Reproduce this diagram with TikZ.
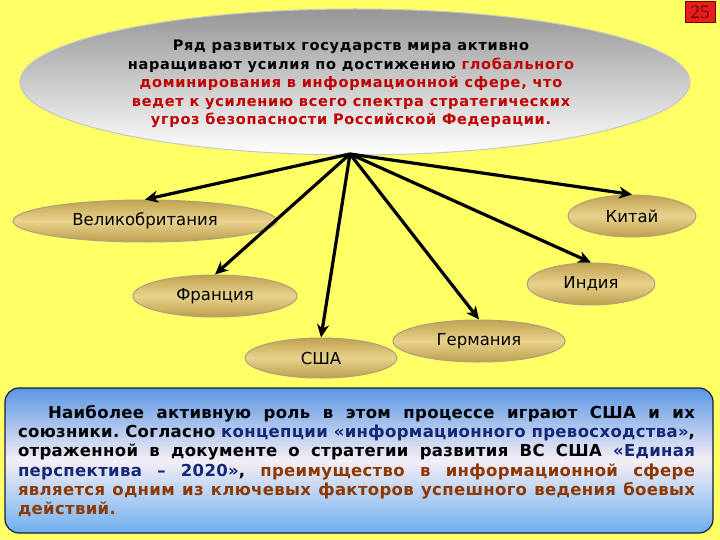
\documentclass[tikz,border=0pt]{standalone}
\usepackage{fontspec}
\setmainfont{DejaVu Sans}
\newfontfamily\topfont[LetterSpace=5]{DejaVu Sans}
\newfontfamily\boxfont[LetterSpace=2]{DejaVu Sans}
\newfontfamily\numfont{Liberation Serif}
\usetikzlibrary{shapes.geometric,arrows.meta}
\definecolor{bgY}{RGB}{255,255,102}
\definecolor{redT}{RGB}{192,0,0}
\definecolor{blueT}{RGB}{20,40,120}
\definecolor{brownT}{RGB}{140,55,0}
\definecolor{goldTop}{RGB}{192,162,80}
\definecolor{goldMid}{RGB}{232,210,140}
\definecolor{goldBot}{RGB}{188,158,78}
\definecolor{goldLine}{RGB}{170,160,130}
\definecolor{boxTop}{RGB}{90,150,228}
\definecolor{boxMid}{RGB}{245,238,245}
\definecolor{boxBot}{RGB}{110,175,240}
\definecolor{boxLine}{RGB}{20,30,70}
\definecolor{pgRed}{RGB}{230,30,30}
\definecolor{pgLine}{RGB}{110,0,0}
\tikzset{
  gold/.style={ellipse, inner sep=0pt, minimum height=42pt,
    top color=goldTop, bottom color=goldBot, middle color=goldMid,
    draw=goldLine, line width=1pt, font=\fontsize{16.5}{20}\selectfont},
  arr/.style={line width=3.2pt, -{Stealth[length=13pt,width=12pt,inset=4pt]}},
}
\begin{document}
\begin{tikzpicture}[x=1pt,y=-1pt]
\fill[bgY] (0,0) rectangle (720,540);
\useasboundingbox (0,0) rectangle (720,540);

% main ellipse
\node[ellipse, minimum width=670pt, minimum height=146pt,
  top color={rgb,255:red,150;green,150;blue,150}, bottom color=white,
  draw=gray!45, line width=1pt] (topell) at (355,82) {};
\node[align=center, inner sep=0pt,
  font=\topfont\bfseries\fontsize{14.5}{18.5}\selectfont] (toptext) at (351,84)
  {Ряд развитых государств мира активно\\
   наращивают усилия по достижению \textcolor{redT}{глобального}\\
   \textcolor{redT}{доминирования в информационной сфере, что}\\
   \textcolor{redT}{ведет к усилению всего спектра стратегических}\\
   \textcolor{redT}{угроз безопасности Российской Федерации.}};
\coordinate (apex) at (350,154);

% country nodes
\node[gold, minimum width=264pt] (gb) at (145,221) {Великобритания};
\node[gold, minimum width=128pt] (cn) at (632,216) {Китай};
\node[gold, minimum width=164pt] (fr) at (215,296) {Франция};
\node[gold, minimum width=128pt] (in) at (591,284) {Индия};
\node[gold, minimum width=172pt] (de) at (479,341) {Германия};
\node[gold, minimum width=152pt, minimum height=40pt] (us) at (321,358) {США};

% arrows
\draw[arr] (apex) -- (gb.north);
\draw[arr] (apex) -- (fr.north);
\draw[arr] (apex) -- (us.north);
\draw[arr] (apex) -- (de.north);
\draw[arr] (apex) -- (in.north);
\draw[arr] (apex) -- (cn.north);

% bottom box
\node[rounded corners=14pt, minimum width=708pt, minimum height=145pt,
  top color=boxTop, bottom color=boxBot, middle color=boxMid,
  draw=boxLine, line width=1.2pt] (box) at (359,460.5) {};
\node[align=justify, inner sep=0pt, text width=677pt,
  font=\boxfont\bfseries\fontsize{16.5}{19.3}\selectfont] (boxtext) at (356.5,461)
  {\frenchspacing\tolerance=9999\emergencystretch=0pt\hspace*{30pt}Наиболее активную роль в этом процессе играют США и их\linebreak
   союзники. Согласно \textcolor{blueT}{концепции «информационного превосходства»},\linebreak
   отраженной в документе о стратегии развития ВС США \textcolor{blueT}{«Единая}\linebreak
   \textcolor{blueT}{перспектива – 2020»}, \textcolor{brownT}{преимущество в информационной сфере}\linebreak
   \textcolor{brownT}{является одним из ключевых факторов успешного ведения боевых}\linebreak
   \textcolor{brownT}{действий.}};

% page number
\node[draw=pgLine, fill=pgRed, line width=0.8pt, minimum width=30pt, minimum height=21pt,
  inner sep=0pt, text=pgLine, font=\numfont\fontsize{19}{19}\selectfont] (pg) at (700,12) {25};
\end{tikzpicture}
\end{document}
